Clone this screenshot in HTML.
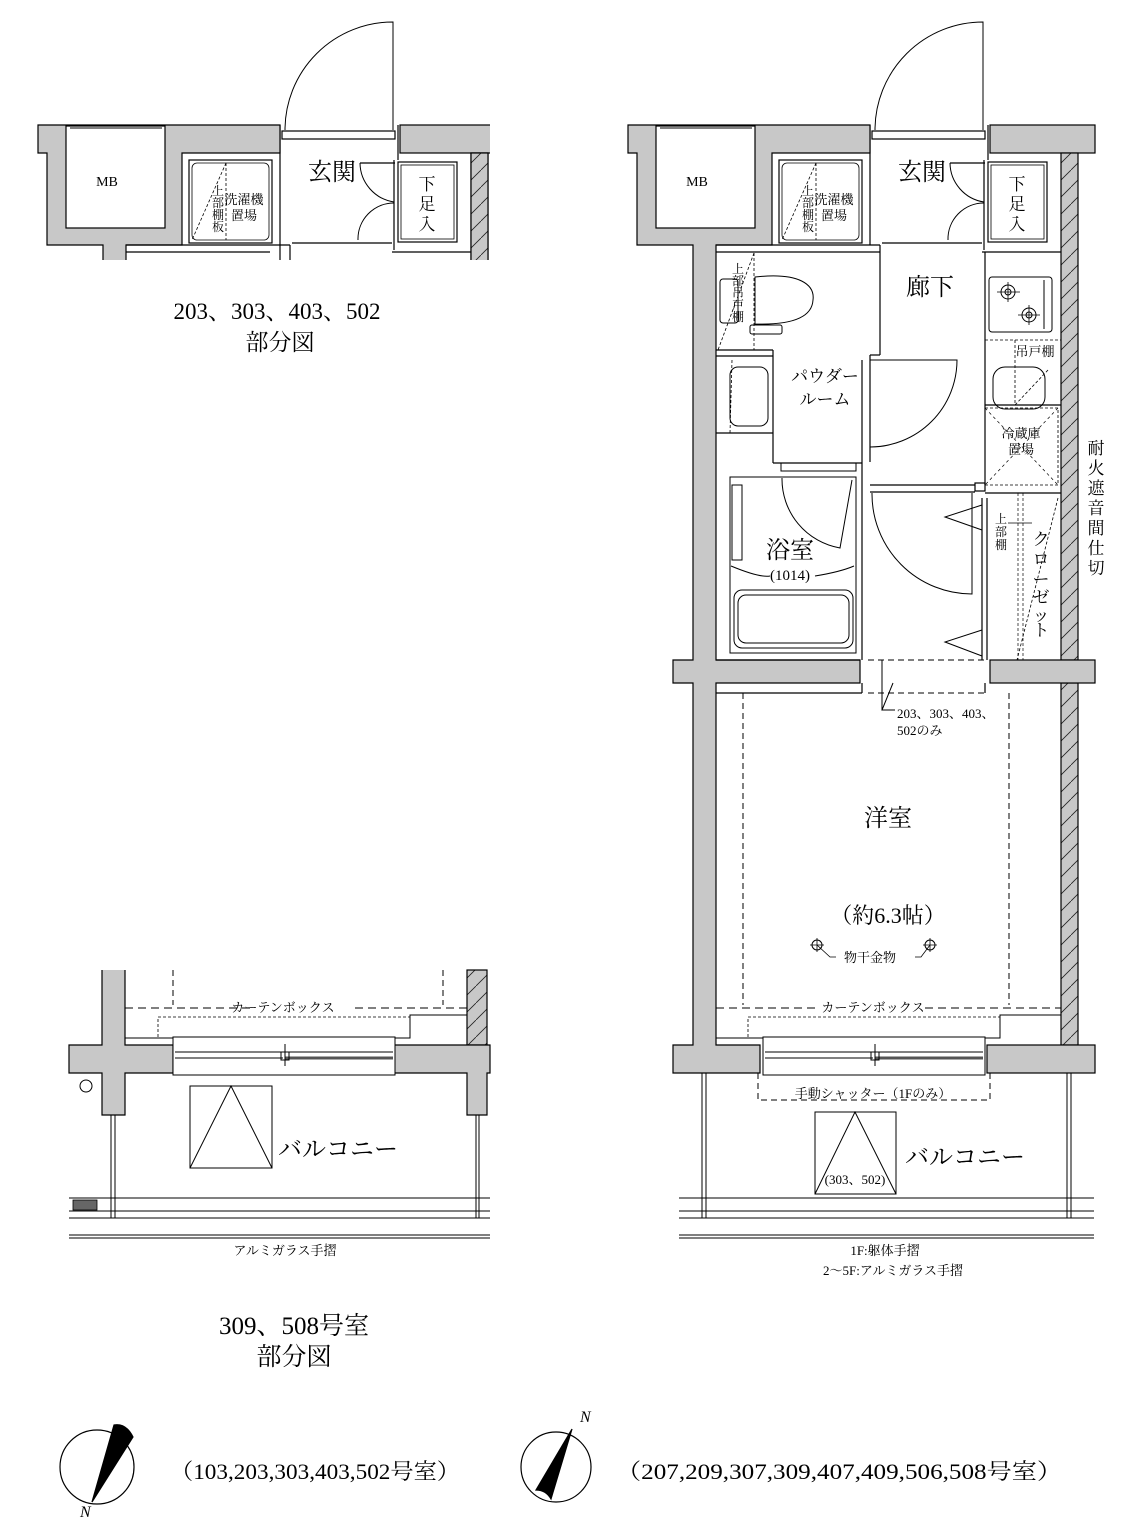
<!DOCTYPE html>
<html><head><meta charset="utf-8"><style>
html,body{margin:0;padding:0;background:#fff}
svg{display:block}
text{font-family:"Liberation Serif","Noto Serif CJK JP",serif;fill:#000}
</style></head><body>
<svg width="1136" height="1526" viewBox="0 0 1136 1526" xmlns="http://www.w3.org/2000/svg">
<defs>
<pattern id="hat" width="17" height="17" patternUnits="userSpaceOnUse">
<rect width="17" height="17" fill="#c8c8c8"/>
<path d="M0,17 L17,0" stroke="#222" stroke-width="0.8"/>
</pattern>
<clipPath id="ctop"><rect x="25" y="0" width="465" height="260"/></clipPath>
<g id="win">
<rect x="763" y="1037" width="222" height="38" fill="#fff" stroke="#000" stroke-width="1"/>
<line x1="765" y1="1052" x2="983" y2="1052" stroke="#000"/>
<line x1="765" y1="1058" x2="873" y2="1058" stroke="#000"/>
<line x1="875" y1="1058" x2="983" y2="1058" stroke="#555" stroke-width="3"/>
<line x1="875" y1="1044" x2="875" y2="1066" stroke="#000"/>
<rect x="871" y="1052" width="8" height="8" fill="none" stroke="#000"/>
</g>
</defs>

<g id="topplan" stroke="#000" stroke-width="1.2">
<path d="M983,130 V22 A108,108 0 0 0 875,130" fill="none" stroke-width="1"/>
<rect x="872" y="131" width="113" height="8" fill="#fff"/>
<line x1="870" y1="125" x2="870" y2="160"/>
<line x1="988" y1="125" x2="988" y2="160"/>
<path d="M628,125 H870 V153 H772 V245 H716 V660 H860 V683 H716 V1045 H760 V1073 H673 V1045 H693 V683 H673 V660 H693 V245 H637 V153 H628 Z" fill="#c8c8c8"/>
<rect x="656" y="126" width="99" height="102" fill="#fff"/>
<line x1="660" y1="128" x2="752" y2="128" stroke-width="1"/>
<rect x="990" y="125" width="105" height="28" fill="#c8c8c8"/>
<rect x="1061" y="153" width="17" height="507" fill="url(#hat)"/>
</g>
<g stroke="#000" stroke-width="1.2" fill="none">
<rect x="1061" y="683" width="17" height="362" fill="url(#hat)"/>
<rect x="990" y="660" width="105" height="23" fill="#c8c8c8"/>
<rect x="987" y="1045" width="108" height="28" fill="#c8c8c8"/>
<rect x="779" y="160" width="83" height="83"/>
<rect x="782" y="163" width="77" height="77" rx="5" stroke-width="0.8"/>
<line x1="816" y1="163" x2="816" y2="240" stroke-dasharray="3,2" stroke-width="0.8"/>
<line x1="816" y1="163" x2="782" y2="240" stroke-dasharray="3,2" stroke-width="0.8"/>
<line x1="870" y1="160" x2="870" y2="245"/>
<line x1="716" y1="245" x2="880" y2="245"/>
<line x1="882" y1="243" x2="982" y2="243"/>
<line x1="716" y1="252" x2="880" y2="252"/>
<line x1="982" y1="252" x2="1061" y2="252"/>
<line x1="950" y1="163" x2="985" y2="163"/>
<rect x="988" y="162" width="59" height="80"/>
<rect x="991" y="165" width="53" height="74" stroke-width="0.8"/>
<path d="M950,163 A40,40 0 0 0 984,202 M984,203 A36,36 0 0 0 948,240" stroke-width="1"/>
<line x1="984" y1="160" x2="984" y2="250"/>
<line x1="880" y1="245" x2="880" y2="355"/>
<line x1="880" y1="355" x2="870" y2="355"/>
<line x1="870" y1="355" x2="870" y2="462"/>
<line x1="862" y1="360" x2="862" y2="462"/>
<line x1="716" y1="350" x2="773" y2="350"/>
<line x1="716" y1="356" x2="773" y2="356"/>
<line x1="773" y1="350" x2="773" y2="463"/>
<line x1="716" y1="433" x2="773" y2="433"/>
<path d="M755,277 C800,272 815,285 813,300 C812,318 790,325 755,324 Z" stroke-width="1"/>
<rect x="750" y="325" width="32" height="9" rx="2" stroke-width="1"/>
<rect x="720" y="279" width="18" height="44" rx="3" stroke-width="1"/>
<line x1="754" y1="253" x2="754" y2="350" stroke-dasharray="3,2" stroke-width="0.8"/>
<line x1="754" y1="253" x2="718" y2="350" stroke-dasharray="3,2" stroke-width="0.8"/>
<rect x="730" y="367" width="38" height="59" rx="8" stroke-width="1"/>
<line x1="732" y1="360" x2="730" y2="433" stroke-dasharray="3,2" stroke-width="0.8"/>
<path d="M870,360 H957 A87,87 0 0 1 870,447" stroke-width="1"/>
<line x1="773" y1="463" x2="862" y2="463"/>
<rect x="781" y="463" width="75" height="8" stroke-width="1"/>
<rect x="730" y="477" width="126" height="176" stroke-width="1"/>
<rect x="732" y="485" width="10" height="75" stroke-width="1"/>
<path d="M782,478 A70,70 0 0 0 840,548 L852,480" stroke-width="1"/>
<path d="M731,566 Q760,578 770,576 M815,576 Q840,572 854,566" stroke-width="1"/>
<rect x="734" y="590" width="119" height="58" rx="8" stroke-width="1"/>
<rect x="738" y="595" width="111" height="48" rx="8" stroke-width="1"/>
<line x1="716" y1="660" x2="860" y2="660"/>
<line x1="862" y1="462" x2="862" y2="660"/>
<rect x="989" y="277" width="63" height="55" rx="3" stroke-width="1"/>
<circle cx="1008" cy="292" r="7" stroke-width="1"/><circle cx="1008" cy="292" r="3" stroke-width="1"/>
<circle cx="1029" cy="315" r="7" stroke-width="1"/><circle cx="1029" cy="315" r="3" stroke-width="1"/>
<path d="M997,292 H1020 M1008,282 V302 M1018,315 H1040 M1029,305 V325" stroke-width="0.8"/>
<line x1="1044" y1="280" x2="1044" y2="329" stroke-width="1"/>
<line x1="985" y1="252" x2="985" y2="485"/>
<line x1="985" y1="340" x2="1061" y2="340" stroke-dasharray="3,2" stroke-width="0.8"/>
<rect x="993" y="367" width="52" height="42" rx="12" stroke-width="1"/>
<line x1="1015" y1="340" x2="1015" y2="405" stroke-dasharray="3,2" stroke-width="0.8"/>
<line x1="1048" y1="370" x2="1015" y2="405" stroke-dasharray="3,2" stroke-width="0.8"/>
<line x1="985" y1="405" x2="1061" y2="405"/>
<rect x="985" y="408" width="73" height="77" stroke-dasharray="3,2" stroke-width="0.8"/>
<path d="M985,408 L1058,485 M1058,408 L985,485" stroke-dasharray="3,3" stroke-width="0.7"/>
<line x1="870" y1="485" x2="975" y2="485"/>
<line x1="870" y1="492" x2="975" y2="492"/>
<rect x="975" y="483" width="10" height="8"/>
<line x1="985" y1="493" x2="1061" y2="493"/>
<line x1="982" y1="498" x2="982" y2="660"/>
<line x1="987" y1="498" x2="987" y2="660"/>
<path d="M872,493 A100,100 0 0 0 972,594 V493" stroke-width="1"/>
<path d="M982,505 L945,517 L982,530 M982,630 L945,642 L982,656" stroke-width="1"/>
<line x1="1018" y1="493" x2="1018" y2="660" stroke-dasharray="3,2" stroke-width="0.7"/>
<line x1="1023" y1="493" x2="1023" y2="660" stroke-dasharray="3,2" stroke-width="0.7"/>
<line x1="1058" y1="498" x2="1017" y2="660" stroke-dasharray="3,2" stroke-width="0.8"/>
<line x1="1008" y1="523" x2="1032" y2="523" stroke-width="0.8"/>
<path d="M868,660 H985 M868,693 H985" stroke-dasharray="6,4" stroke-width="1"/>
<line x1="882" y1="660" x2="882" y2="710" stroke-width="1"/>
<path d="M893,683 L882,710 H895" stroke-width="1"/>
<line x1="716" y1="693" x2="862" y2="693"/>
<line x1="862" y1="683" x2="862" y2="693"/>
<line x1="985" y1="683" x2="985" y2="693"/>
<path d="M743,693 V1005 M1009,693 V1005" stroke-dasharray="6,4" stroke-width="1"/>
<path d="M716,1008 H820 M925,1008 H1061" stroke-dasharray="8,5" stroke-width="1"/>
<path d="M748,1037 V1017 H1000" stroke-dasharray="3,2" stroke-width="0.8"/>
<path d="M1000,1017 V1015 H1061" stroke-width="1"/>
<path d="M1000,1017 V1038 H985" stroke-width="1"/>
<line x1="716" y1="1038" x2="763" y2="1038" stroke-width="1"/>
<circle cx="817" cy="945" r="5" stroke-width="1"/><path d="M810,945 H824 M817,938 V952" stroke-width="0.8"/>
<circle cx="930" cy="945" r="5" stroke-width="1"/><path d="M923,945 H937 M930,938 V952" stroke-width="0.8"/>
<path d="M817,945 L830,957 H836 M915,957 H921 L930,945" stroke-width="0.8"/>
<path d="M758,1073 V1100 H990 V1073" stroke-dasharray="6,4" stroke-width="1"/>
<rect x="815" y="1112" width="81" height="82" stroke-width="1"/>
<path d="M815,1194 L855,1112 L896,1194" stroke-width="1"/>
<path d="M702,1073 V1218 M706,1073 V1218 M1067,1073 V1218 M1071,1073 V1218" stroke-width="1"/>
<path d="M679,1198 H1094 M679,1211 H1094 M679,1218 H1094 M679,1235 H1094 M679,1238 H1094" stroke-width="1"/>
</g>
<use href="#win"/>

<g clip-path="url(#ctop)"><use href="#topplan" transform="translate(-590,0)"/>
<g transform="translate(-590,0)" stroke="#000" stroke-width="1.2" fill="none">
<rect x="1061" y="153" width="17" height="110" fill="url(#hat)"/>
<rect x="779" y="160" width="83" height="83"/>
<rect x="782" y="163" width="77" height="77" rx="5" stroke-width="0.8"/>
<line x1="816" y1="163" x2="816" y2="240" stroke-dasharray="3,2" stroke-width="0.8"/>
<line x1="816" y1="163" x2="782" y2="240" stroke-dasharray="3,2" stroke-width="0.8"/>
<line x1="870" y1="160" x2="870" y2="260"/>
<line x1="716" y1="245" x2="880" y2="245"/>
<line x1="882" y1="243" x2="982" y2="243"/>
<line x1="716" y1="252" x2="860" y2="252"/>
<line x1="982" y1="252" x2="1061" y2="252"/>
<line x1="950" y1="163" x2="985" y2="163"/>
<rect x="988" y="162" width="59" height="80"/>
<rect x="991" y="165" width="53" height="74" stroke-width="0.8"/>
<path d="M950,163 A40,40 0 0 0 984,202 M984,203 A36,36 0 0 0 948,240" stroke-width="1"/>
<line x1="984" y1="160" x2="984" y2="250"/>
<line x1="880" y1="245" x2="880" y2="260"/>
</g></g>

<g stroke="#000" stroke-width="1.2" fill="none">
<path d="M102,970 V1045 H69 V1073 H102 V1115 H125 V1073 H173 V1045 H125 V970" fill="#c8c8c8"/>
<rect x="467" y="970" width="20" height="75" fill="url(#hat)"/>
<path d="M393,1045 H490 V1073 H487 V1115 H467 V1073 H393 Z" fill="#c8c8c8"/>
<path d="M173,970 V1005 M443,970 V1005" stroke-dasharray="6,4" stroke-width="1"/>
<path d="M125,1008 H255 M355,1008 H467" stroke-dasharray="8,5" stroke-width="1"/>
<path d="M158,1037 V1017 H410" stroke-dasharray="3,2" stroke-width="0.8"/>
<path d="M410,1017 V1015 H467 M410,1017 V1038 H395 M125,1038 H173" stroke-width="1"/>
<circle cx="86" cy="1086" r="6" stroke-width="1"/>
<rect x="190" y="1086" width="82" height="82" stroke-width="1"/>
<path d="M190,1168 L231,1086 L272,1168" stroke-width="1"/>
<path d="M111,1115 V1218 M115,1115 V1218 M476,1115 V1218 M479,1115 V1218" stroke-width="1"/>
<path d="M69,1198 H490 M69,1211 H490 M69,1218 H490 M69,1235 H490 M69,1238 H490" stroke-width="1"/>
<rect x="73" y="1200" width="24" height="10" fill="#666" stroke-width="0.8"/>
</g>
<use href="#win" transform="translate(-590,0)"/>

<text x="697" y="186" font-size="14" text-anchor="middle">MB</text>
<text x="107" y="186" font-size="14" text-anchor="middle">MB</text>
<g font-size="24" text-anchor="middle">
<text x="922" y="180">玄関</text><text x="332" y="180">玄関</text>
<text x="930" y="295">廊下</text>
<text x="888" y="826">洋室</text>
<text x="790" y="558">浴室</text>
<text x="965" y="1165">バルコニー</text>
<text x="338" y="1157">バルコニー</text>
</g>
<g font-size="17" text-anchor="middle">
<text x="1017" y="190">下</text><text x="1017" y="210">足</text><text x="1017" y="230">入</text>
<text x="427" y="190">下</text><text x="427" y="210">足</text><text x="427" y="230">入</text>
<text x="825" y="382">パウダー</text><text x="825" y="405">ルーム</text>
</g>
<g font-size="13" text-anchor="middle">
<text x="834" y="204">洗濯機</text><text x="834" y="220">置場</text>
<text x="244" y="204">洗濯機</text><text x="244" y="220">置場</text>
<text x="1021" y="438">冷蔵庫</text><text x="1021" y="454">置場</text>
<text x="1035" y="356">吊戸棚</text>
<text x="790" y="580" font-size="15">(1014)</text>
<text x="873" y="1012">カーテンボックス</text>
<text x="283" y="1012">カーテンボックス</text>
<text x="873" y="1098">手動シャッター（1Fのみ）</text>
<text x="855" y="1184">(303、502)</text>
<text x="870" y="962">物干金物</text>
<text x="885" y="1255">1F:躯体手摺</text>
<text x="893" y="1275">2〜5F:アルミガラス手摺</text>
<text x="285" y="1255">アルミガラス手摺</text>
</g>
<g font-size="12" text-anchor="middle">
<text x="808" y="195">上</text><text x="808" y="207">部</text><text x="808" y="219">棚</text><text x="808" y="231">板</text>
<text x="218" y="195">上</text><text x="218" y="207">部</text><text x="218" y="219">棚</text><text x="218" y="231">板</text>
<text x="738" y="273">上</text><text x="738" y="285">部</text><text x="738" y="297">吊</text><text x="738" y="309">戸</text><text x="738" y="321">棚</text>
<text x="1001" y="523">上</text><text x="1001" y="536">部</text><text x="1001" y="549">棚</text>
</g>
<text x="897" y="718" font-size="13">203、303、403、</text>
<text x="897" y="735" font-size="13">502のみ</text>
<g font-size="17" text-anchor="middle">
<text x="1041" y="545">ク</text><text x="1041" y="565">ロ</text><text x="1041" y="585">ー</text><text x="1041" y="603">ゼ</text><text x="1041" y="621">ッ</text><text x="1041" y="636">ト</text>
<text x="1096" y="454">耐</text><text x="1096" y="474">火</text><text x="1096" y="494">遮</text><text x="1096" y="514">音</text><text x="1096" y="534">間</text><text x="1096" y="554">仕</text><text x="1096" y="574">切</text>
</g>
<text x="888" y="923" font-size="22" text-anchor="middle">（約6.3帖）</text>
<g font-size="23" text-anchor="middle">
<text x="277" y="319">203、303、403、502</text>
<text x="280" y="350">部分図</text>
</g>
<g font-size="25" text-anchor="middle">
<text x="294" y="1334">309、508号室</text>
<text x="294" y="1365">部分図</text>
</g>
<g font-size="22">
<text x="170" y="1479" textLength="290" lengthAdjust="spacingAndGlyphs">（103,203,303,403,502号室）</text>
<text x="616" y="1479" textLength="446" lengthAdjust="spacingAndGlyphs">（207,209,307,309,407,409,506,508号室）</text>
</g>

<g stroke="#000" stroke-width="1.2">
<circle cx="97" cy="1467" r="37" fill="none"/>
<path d="M114,1425 Q126,1423 133,1437 L92,1502 Z" fill="#000"/>
<circle cx="556" cy="1467" r="35" fill="none"/>
<path d="M572,1429 L536,1490 Q546,1490 551,1499 Z" fill="#000"/>
</g>
<text x="80" y="1517" font-size="16" font-style="italic">N</text>
<text x="580" y="1422" font-size="16" font-style="italic">N</text>
</svg>
</body></html>
